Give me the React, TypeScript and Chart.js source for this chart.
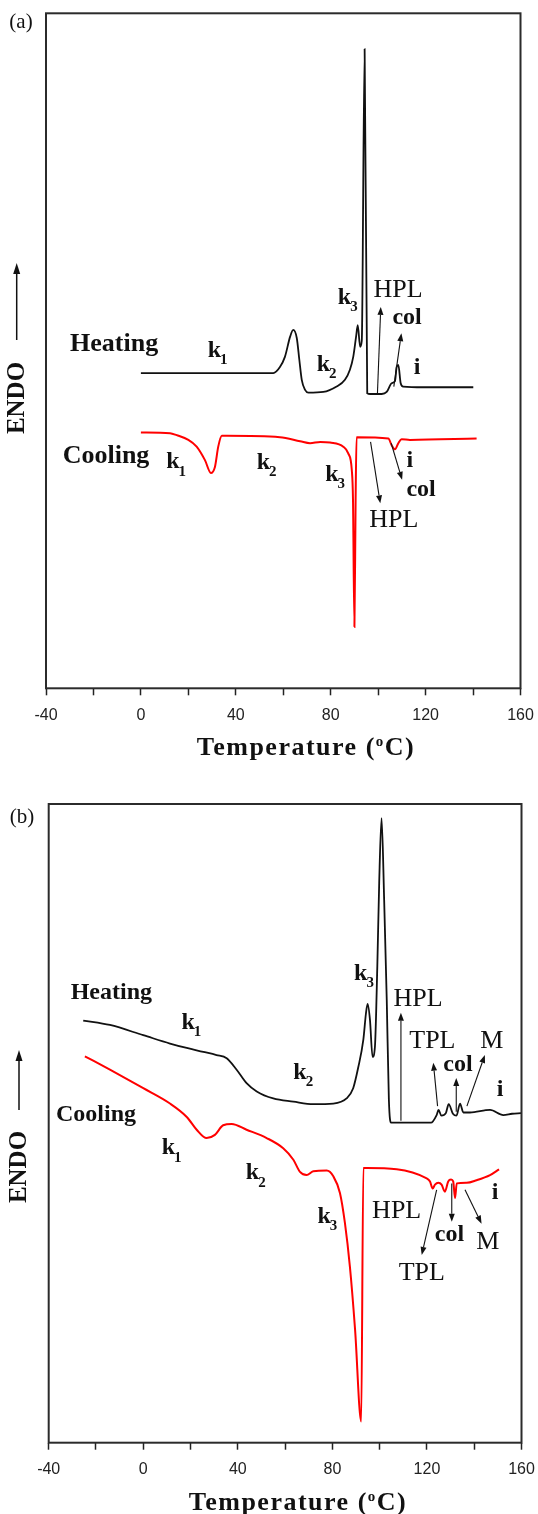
import React, { useEffect, useRef } from "react";
import { Chart, registerables } from "chart.js";

Chart.register(...registerables);

// ---------- Data (temperature in °C, signal in arbitrary units 0..100) ----------
// Panel (a)
const heatingA_T = [0, 55.8, 58.6, 60.7, 62.9, 64.2, 65.7, 66.8, 67.8, 69.2, 70.6, 76.9, 82.5, 86.0, 88.1, 89.5, 90.7, 91.4, 92.4, 93.1, 94.3, 95.4, 96.6, 101.5, 103.6, 105.7, 107.1, 107.8, 108.5, 109.5, 110.6, 119.0, 140.1];
const heatingA_V = [46.7, 46.7, 47.6, 49.1, 52.1, 53.1, 51.9, 48.6, 45.7, 44.2, 43.8, 43.9, 44.7, 45.7, 47.2, 49.1, 52.1, 53.8, 50.6, 51.5, 94.7, 43.7, 43.6, 43.6, 43.9, 45.2, 45.5, 47.6, 47.9, 45.2, 44.7, 44.6, 44.6];
const coolingA_T = [0, 12.3, 15.1, 20.0, 23.5, 27.0, 29.5, 31.2, 32.6, 34.1, 36.2, 58.6, 67.1, 71.3, 75.6, 79.7, 85.3, 87.4, 88.9, 89.4, 90.0, 90.5, 90.9, 104.3, 105.7, 107.1, 108.5, 109.9, 113.4, 141.5];
const coolingA_V = [37.9, 37.8, 37.5, 36.8, 35.8, 33.8, 31.9, 32.8, 35.8, 37.4, 37.4, 37.2, 36.6, 36.3, 36.5, 36.4, 35.8, 34.8, 32.3, 27.9, 9.1, 27.9, 37.2, 37.0, 36.0, 35.4, 36.3, 36.9, 36.8, 37.0];

// Panel (b)
const heatingB_T = [-25.4, -14.1, 0, 11.3, 18.4, 25.4, 31.0, 35.3, 39.5, 43.7, 48.0, 55.0, 63.5, 71.9, 80.4, 86.0, 88.8, 90.9, 93.1, 94.2, 94.9, 95.9, 97.0, 98.0, 99.0, 99.8, 100.8, 101.9, 103.0, 103.9, 104.8, 121.7, 124.1, 124.9, 126.1, 128.0, 129.2, 131.0, 132.5, 134.0, 135.4, 138.2, 146.7, 152.3, 156.0, 159.8];
const heatingB_V = [66.1, 65.4, 63.8, 62.5, 61.8, 61.2, 60.7, 60.2, 58.4, 56.3, 55.0, 53.9, 53.4, 53.0, 53.1, 53.9, 55.5, 58.7, 63.1, 67.2, 68.7, 66.2, 60.4, 62.0, 74.5, 87.6, 97.8, 85.0, 69.3, 53.7, 50.1, 50.1, 51.3, 52.1, 51.2, 51.6, 53.0, 51.5, 51.2, 53.1, 51.7, 51.7, 52.1, 51.3, 51.5, 51.6];
const coolingB_T = [-24.7, -14.1, 0, 11.3, 18.4, 22.6, 26.8, 30.3, 33.8, 37.4, 43.7, 52.2, 59.2, 63.5, 66.3, 69.1, 71.9, 77.6, 80.4, 83.2, 85.3, 87.4, 89.6, 92.2, 93.1, 94.5, 119.9, 121.3, 122.4, 123.4, 124.8, 126.2, 127.6, 129.0, 130.2, 131.1, 131.9, 132.6, 136.8, 141.0, 146.7, 150.5];
const coolingB_V = [60.5, 58.4, 55.5, 53.1, 51.0, 49.0, 47.7, 48.2, 49.7, 49.9, 49.0, 47.7, 46.1, 44.3, 42.4, 41.9, 42.5, 42.6, 41.7, 39.1, 34.4, 27.6, 17.7, 3.3, 43.0, 43.0, 41.4, 40.9, 39.8, 40.4, 40.7, 40.4, 39.3, 40.9, 41.2, 40.9, 38.3, 40.6, 40.7, 41.1, 41.9, 42.8];

// Axis
const X_MIN = -40;
const X_MAX = 160;
const X_STEP = 20;
const tickLabels = ["-40", "0", "40", "80", "120", "160"];

// ---------- Annotations ----------
type Label = { t: string; sub?: string; x: number; y: number; size: number; bold?: boolean };
type Arrow = [number, number, number, number];

const labelsA: Label[] = [
  { t: "Heating", x: -11.3, y: 50.9, size: 26, bold: true },
  { t: "k", sub: "1", x: 31.0, y: 50.0, size: 24, bold: true },
  { t: "k", sub: "2", x: 76.9, y: 47.9, size: 24, bold: true },
  { t: "k", sub: "3", x: 85.8, y: 57.9, size: 24, bold: true },
  { t: "HPL", x: 108.4, y: 59.0, size: 26 },
  { t: "col", x: 112.2, y: 54.9, size: 24, bold: true },
  { t: "i", x: 116.4, y: 47.5, size: 24, bold: true },
  { t: "Cooling", x: -14.7, y: 34.3, size: 26, bold: true },
  { t: "k", sub: "1", x: 13.5, y: 33.5, size: 24, bold: true },
  { t: "k", sub: "2", x: 51.6, y: 33.4, size: 24, bold: true },
  { t: "k", sub: "3", x: 80.5, y: 31.6, size: 24, bold: true },
  { t: "HPL", x: 106.6, y: 24.9, size: 26 },
  { t: "col", x: 118.1, y: 29.4, size: 24, bold: true },
  { t: "i", x: 113.4, y: 33.7, size: 24, bold: true },
];
const arrowsA: Arrow[] = [
  [99.7, 43.7, 101.1, 56.5],
  [106.6, 44.7, 109.8, 52.6],
  [96.8, 36.5, 100.9, 27.4],
  [105.5, 36.3, 110.1, 30.9],
];

const labelsB: Label[] = [
  { t: "Heating", x: -13.5, y: 70.4, size: 24, bold: true },
  { t: "k", sub: "1", x: 19.0, y: 65.8, size: 24, bold: true },
  { t: "k", sub: "2", x: 66.3, y: 57.9, size: 24, bold: true },
  { t: "k", sub: "3", x: 92.0, y: 73.4, size: 24, bold: true },
  { t: "HPL", x: 116.2, y: 69.5, size: 26 },
  { t: "TPL", x: 122.3, y: 62.8, size: 26 },
  { t: "col", x: 133.1, y: 59.1, size: 24, bold: true },
  { t: "M", x: 147.4, y: 62.9, size: 26 },
  { t: "i", x: 150.9, y: 55.2, size: 24, bold: true },
  { t: "Cooling", x: -20.0, y: 51.3, size: 24, bold: true },
  { t: "k", sub: "1", x: 10.6, y: 46.1, size: 24, bold: true },
  { t: "k", sub: "2", x: 46.2, y: 42.2, size: 24, bold: true },
  { t: "k", sub: "3", x: 76.5, y: 35.4, size: 24, bold: true },
  { t: "HPL", x: 107.2, y: 36.2, size: 26 },
  { t: "TPL", x: 117.8, y: 26.6, size: 26 },
  { t: "col", x: 129.5, y: 32.5, size: 24, bold: true },
  { t: "M", x: 145.8, y: 31.4, size: 26 },
  { t: "i", x: 148.8, y: 39.1, size: 24, bold: true },
];
const arrowsB: Arrow[] = [
  [109.0, 50.4, 109.0, 67.3],
  [124.5, 52.7, 122.7, 59.5],
  [132.4, 51.8, 132.4, 57.1],
  [136.9, 52.7, 144.5, 60.7],
  [124.1, 39.6, 117.8, 29.4],
  [130.5, 40.6, 130.5, 34.6],
  [136.1, 39.6, 143.1, 34.3],
];

// ---------- Layout ----------
const W = 538;
const SERIF = '"Liberation Serif", "Times New Roman", serif';
const SANS = '"Liberation Sans", Arial, sans-serif';

type Panel = {
  tag: string;
  top: number;
  height: number;
  area: { left: number; right: number; top: number; bottom: number };
  heatT: number[]; heatV: number[]; coolT: number[]; coolV: number[];
  labels: Label[]; arrows: Arrow[];
  tagPos: [number, number];
  endo: { x: number; y: number; ax: number; aTop: number; aBottom: number };
  titleX: number; titleBase: number; tickPad: number;
};

const panels: Panel[] = [
  {
    tag: "(a)", top: 0, height: 780,
    area: { left: 46, right: 520.5, top: 13.3, bottom: 688.3 },
    heatT: heatingA_T, heatV: heatingA_V, coolT: coolingA_T, coolV: coolingA_V,
    labels: labelsA, arrows: arrowsA,
    tagPos: [21, 22.5],
    endo: { x: 18, y: 398, ax: 16.7, aTop: 263, aBottom: 340 },
    titleX: 306, titleBase: 755, tickPad: 11,
  },
  {
    tag: "(b)", top: 780, height: 734,
    area: { left: 48.7, right: 521.5, top: 24, bottom: 662.7 },
    heatT: heatingB_T, heatV: heatingB_V, coolT: coolingB_T, coolV: coolingB_V,
    labels: labelsB, arrows: arrowsB,
    tagPos: [22, 37],
    endo: { x: 20, y: 387, ax: 19, aTop: 270, aBottom: 330 },
    titleX: 298, titleBase: 730, tickPad: 10,
  },
];

function drawArrow(ctx: CanvasRenderingContext2D, x1: number, y1: number, x2: number, y2: number, head = 8, half = 3) {
  const ang = Math.atan2(y2 - y1, x2 - x1);
  const bx = x2 - head * Math.cos(ang);
  const by = y2 - head * Math.sin(ang);
  ctx.beginPath();
  ctx.moveTo(x1, y1);
  ctx.lineTo(bx, by);
  ctx.stroke();
  ctx.beginPath();
  ctx.moveTo(x2, y2);
  ctx.lineTo(bx + half * Math.sin(ang), by - half * Math.cos(ang));
  ctx.lineTo(bx - half * Math.sin(ang), by + half * Math.cos(ang));
  ctx.closePath();
  ctx.fill();
}

function makeDecor(p: Panel) {
  return {
    id: "decor",
    afterDraw(chart: any) {
      const ctx: CanvasRenderingContext2D = chart.ctx;
      const xs = chart.scales.x;
      const ys = chart.scales.y;
      const { left, right, top, bottom } = chart.chartArea;
      ctx.save();
      // frame
      ctx.strokeStyle = "#2b2b2b";
      ctx.lineWidth = 2;
      ctx.strokeRect(left, top, right - left, bottom - top);

      ctx.fillStyle = "#111";
      ctx.strokeStyle = "#111";
      // labels
      for (const l of p.labels) {
        const px = xs.getPixelForValue(l.x);
        const py = ys.getPixelForValue(l.y);
        ctx.font = `${l.bold ? "bold " : ""}${l.size}px ${SERIF}`;
        ctx.textAlign = "center";
        ctx.textBaseline = "middle";
        ctx.fillText(l.t, px, py);
        if (l.sub) {
          const w = ctx.measureText(l.t).width;
          ctx.font = `bold ${Math.round(l.size * 0.62)}px ${SERIF}`;
          ctx.textAlign = "left";
          ctx.fillText(l.sub, px + w / 2 - 1, py + l.size * 0.4);
        }
      }
      // arrows
      ctx.lineWidth = 1.1;
      for (const a of p.arrows) {
        drawArrow(ctx, xs.getPixelForValue(a[0]), ys.getPixelForValue(a[1]), xs.getPixelForValue(a[2]), ys.getPixelForValue(a[3]));
      }
      // panel tag
      ctx.font = `21px ${SERIF}`;
      ctx.textAlign = "center";
      ctx.textBaseline = "middle";
      ctx.fillText(p.tag, p.tagPos[0], p.tagPos[1]);
      // ENDO
      ctx.lineWidth = 1.5;
      drawArrow(ctx, p.endo.ax, p.endo.aBottom, p.endo.ax, p.endo.aTop, 11, 3.5);
      ctx.save();
      ctx.translate(p.endo.x, p.endo.y);
      ctx.rotate(-Math.PI / 2);
      ctx.font = `bold 25px ${SERIF}`;
      ctx.fillText("ENDO", 0, 0);
      ctx.restore();
      // x title
      ctx.textAlign = "left";
      ctx.textBaseline = "alphabetic";
      (ctx as any).letterSpacing = "1.5px";
      const big = `bold 26px ${SERIF}`;
      const small = `bold 15px ${SERIF}`;
      ctx.font = big;
      const wa = ctx.measureText("Temperature (").width;
      const wc = ctx.measureText("C)").width;
      ctx.font = small;
      const wo = ctx.measureText("o").width;
      let x0 = p.titleX - (wa + wo + wc) / 2;
      ctx.font = big;
      ctx.fillText("Temperature (", x0, p.titleBase);
      x0 += wa;
      ctx.font = small;
      ctx.fillText("o", x0, p.titleBase - 9);
      x0 += wo;
      ctx.font = big;
      ctx.fillText("C)", x0, p.titleBase);
      ctx.restore();
    },
  };
}

function PanelChart({ p }: { p: Panel }) {
  const ref = useRef<HTMLCanvasElement | null>(null);
  useEffect(() => {
    if (!ref.current) return;
    const chart = new Chart(ref.current, {
      type: "line",
      data: {
        datasets: [
          {
            data: p.heatT.map((t, i) => ({ x: t, y: p.heatV[i] })),
            borderColor: "#111111",
            borderWidth: 1.8,
            pointRadius: 0,
            fill: false,
            cubicInterpolationMode: "monotone",
          },
          {
            data: p.coolT.map((t, i) => ({ x: t, y: p.coolV[i] })),
            borderColor: "#ff0000",
            borderWidth: 2,
            pointRadius: 0,
            fill: false,
            cubicInterpolationMode: "monotone",
          },
        ],
      },
      options: {
        animation: false,
        responsive: false,
        maintainAspectRatio: false,
        devicePixelRatio: 1,
        layout: { padding: { left: p.area.left, right: W - p.area.right, top: p.area.top, bottom: 0 } },
        plugins: { legend: { display: false }, tooltip: { enabled: false } },
        scales: {
          x: {
            type: "linear",
            min: X_MIN,
            max: X_MAX,
            afterFit: (s: any) => {
              s.height = p.height - p.area.bottom;
              s.paddingLeft = 0;
              s.paddingRight = 0;
            },
            border: { display: false },
            grid: { drawOnChartArea: false, drawTicks: true, tickLength: 7, tickWidth: 1.5, tickColor: "#222", color: "#222" },
            ticks: {
              stepSize: X_STEP,
              padding: p.tickPad,
              color: "#222",
              maxRotation: 0,
              autoSkip: false,
              font: { family: SANS, size: 16 },
              callback: (v: any) => (tickLabels.includes(String(v)) ? String(v) : ""),
            },
          },
          y: { display: false, min: 0, max: 100 },
        },
      },
      plugins: [makeDecor(p)],
    } as any);
    return () => chart.destroy();
  }, [p]);
  return (
    <canvas
      ref={ref}
      width={W}
      height={p.height}
      style={{ position: "absolute", left: 0, top: p.top, width: W, height: p.height }}
    />
  );
}

export default function App() {
  return (
    <div style={{ position: "absolute", left: 0, top: 0, width: W, height: 1514, background: "#fff" }}>
      {panels.map((p) => (
        <PanelChart key={p.tag} p={p} />
      ))}
    </div>
  );
}
